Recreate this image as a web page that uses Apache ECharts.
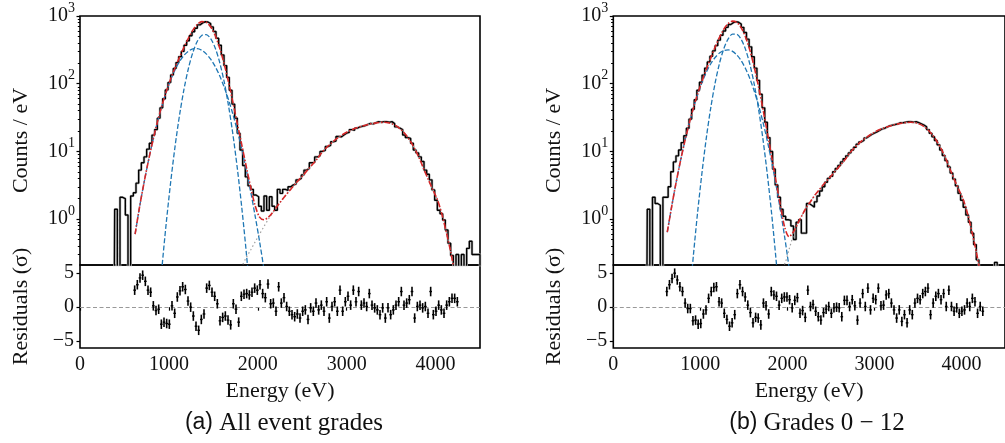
<!DOCTYPE html>
<html><head><meta charset="utf-8">
<script src="https://cdn.jsdelivr.net/npm/echarts/dist/echarts.min.js"></script>
<style>html,body{margin:0;padding:0;background:#fff}#c{width:1005px;height:443px}</style>
</head><body><div id="c"></div>
<script>
// ---------------- data ----------------
const BIN_WIDTH = 30;          // eV
const HIST_START = 405;        // centre of first histogram bin (eV)
const RESID_START = 615;       // centre of first residual bin (eV)
const RESID_ERR = 0.7;         // half length of residual error bars (sigma)

const HIST_A = [1.4,0,2.1,2.0,1.15,0,2.2,2.45,3.4,5.3,6.8,8.3,10.8,13.2,17.4,21,31,44,60,81,
  104,135,168,205,251,300,370,430,510,585,660,740,790,822,815,770,690,590,470,370,
  265,185,124,80,50,31,18.5,10.5,6.2,4.2,3.1,2.75,2.27,2.14,1.55,1.32,2.2,1.35,2.14,1.55,
  1.35,2.75,2.4,2.75,2.65,3.0,3.2,3.3,3.8,4.0,4.5,5.3,5.6,6.8,6.9,8.3,8.6,10,10.4,11.8,
  12.3,13.9,14.2,16.6,16.4,17.5,18.6,19.2,21,20.5,22,23,23.5,24,25,26,25.5,26.5,27.5,27,
  27.5,27.5,27,27.5,25.7,23,22,21,17.5,16,15.5,13.2,10.5,9.5,8.3,7.1,5.3,4.6,3.8,2.7,
  1.9,1.35,1.2,0.97,0.69,0.44,0.29,0,0.3,0,0.3,0,0.37,0.47,0.3,0.3,0.3];
const HIST_B = [1.4,0,2.1,1.7,1.6,0,2.1,2.1,3.0,5.0,7.0,8.6,10.5,13.5,17,22,30,42,58,80,
  105,134,170,210,255,305,365,440,520,600,680,750,800,825,810,760,680,570,455,350,
  250,170,112,70,44,27,16,10,5.5,3.2,2.1,1.4,1.1,0.98,0.96,0.79,0.5,0.9,0.98,0.62,
  0.62,1.7,1.6,1.5,1.8,2.2,2.6,3.0,3.5,4.0,4.3,5.0,5.6,6.2,7.0,7.8,8.6,9.5,10.5,11.5,
  12.8,13.8,14.5,15.8,16.8,17.8,18.6,19.5,20.5,21.5,22,23,24,24.5,25,25.5,26.5,26.5,27,27.5,
  27.5,27,27.5,26.5,25.5,24.5,23,21,18.5,16.5,14.5,12.5,10.5,8.7,7.3,5.9,4.8,3.9,3.1,2.4,
  1.9,1.5,1.15,0.9,0.62,0.42,0.25,0,0,0,0,0,0,0.23,0,0,0];

const RESID_A = [2.5,3.3,4.3,4.7,3.8,2.5,2.2,0.2,-0.5,-0.3,
  -2.5,-2.2,-2.4,-2.5,0.2,-0.9,1.5,2.4,3.0,2.6,
  0.9,0.0,-1.3,-2.8,-3.4,-1.8,-1.0,2.8,3.2,2.2,
  1.6,0.5,-2.0,-1.5,-1.3,-1.9,-2.6,0.5,-0.3,-2.2,
  1.6,1.9,2.0,1.8,2.2,2.8,2.5,3.3,2.0,1.4,
  3.4,0.5,0.6,-0.6,3.0,0.6,1.4,0.1,
  -0.6,-1.1,-1.4,-1.0,-1.6,-0.6,-0.4,-1.8,-0.1,-0.6,
  0.6,-0.4,0.3,-0.6,0.8,-1.6,0.1,0.8,-0.6,2.5,
  -0.6,0.8,1.6,0.3,2.5,0.8,2.3,0.3,0.6,0.1,
  2.0,0.3,-0.1,-0.4,-1.1,-0.1,-1.6,-0.1,-1.1,-0.4,
  0.3,0.8,2.3,0.3,0.6,1.1,2.3,-1.6,0.1,0.3,
  -0.1,0.1,-0.9,2.3,-1.1,-0.6,0.3,-0.4,-0.9,0.3,
  0.8,1.3,1.3,0.8];
const RESID_B = [2.3,3.3,4.2,5.0,4.0,3.0,2.3,0.6,-0.2,-0.2,
  -2.0,-1.9,-2.5,-2.4,-1.0,-0.4,1.3,2.3,2.9,3.0,
  0.8,0.6,-0.9,-1.8,-2.8,-2.3,-1.1,2.0,3.3,2.3,
  1.5,0.3,-0.8,-2.3,-1.5,-1.6,-2.6,0.6,0.2,-1.0,
  2.3,1.8,1.6,0.3,1.3,1.5,1.5,1.1,-0.1,1.0,
  1.4,-0.9,-0.5,-1.5,2.5,0.1,0.4,-0.6,-1.4,-1.9,
  -0.8,-0.3,0.1,-0.9,-0.1,0.0,-0.1,-1.4,1.0,1.0,
  0.1,1.1,0.2,-1.9,0.6,2.0,0.1,2.8,-0.4,1.3,
  1.1,2.8,0.2,0.3,1.8,2.0,0.6,-0.4,-1.6,-0.4,
  -2.1,-1.1,-2.3,-0.4,-1.1,0.6,1.3,1.1,2.0,2.3,
  2.8,-1.1,0.6,1.6,2.0,1.1,2.0,0.1,2.5,0.1,
  -0.6,-0.1,-0.9,-0.6,-0.4,0.6,0.1,1.3,0.8,-0.9,
  0.1,-0.6];

// model curves, sampled at these energies (eV)
const MODEL_E = [620,670,720,770,820,870,920,970,1020,1070,1120,1170,1220,1270,1320,1370,1420,1470,1520,1570,
  1620,1670,1720,1770,1820,1870,1920,1970,2020,2070,2120,2170,2220,2270,2320,2370,2420,2470,2520,2570,
  2620,2670,2720,2770,2820,2870,2920,2970,3020,3070,3120,3170,3220,3270,3320,3370,3420,3470,3520,3570,
  3620,3670,3720,3770,3820,3870,3920,3970,4020,4070,4120,4170,4220];
// continuum above 2320 eV (same in both fits)
const CONT_HIGH = [2.3,2.75,3.3,3.9,4.6,5.5,6.5,7.8,9.6,11.3,13.0,14.8,16.5,18.2,19.8,21.2,22.5,23.6,24.6,25.5,
  26.2,26.7,26.9,26.5,25.3,23.3,20.5,17.3,13.9,10.7,7.8,5.4,3.8,2.7,1.95,1.2,0.65,0.33,0.15];
const TOTAL_A_LOW = [0.60,1.51,3.43,7.3,14.5,26.9,46.8,76.3,117.5,173,247,346,472,618,752,827,808,693,519,341,
  200,107,53.4,25.8,12.5,6.0,2.96,1.59,1.07,0.98,1.07,1.27,1.56,1.9];
const BROAD_A = [0.60,1.51,3.43,7.3,14.5,26.9,46.6,75.4,114,161,213,263,303,327,330,311,276,230,180,132,
  90.5,58.5,35.5,20.2,10.8,5.4,2.55,1.12,0.47,0.18,0.066];
const NARROW_A = [null,null,null,null,null,0.03,0.18,0.87,3.5,12,34.4,83,169,291,423,516,532,463,340,210,
  110,48,17.9,5.6,1.48,0.33,0.06];
const CONT_A_LOW = [null,null,null,null,null,null,null,null,null,null,null,null,null,null,null,null,null,null,null,null,
  null,null,null,0.15,0.2,0.27,0.35,0.46,0.6,0.78,1.0,1.25,1.55,1.9];
const TOTAL_B_LOW = [0.64,1.52,3.39,7.07,13.8,25.35,43.7,71.2,110,165,241,347,484,639,775,840,801,668,485,309,
  174,88.5,41.8,18.8,8.25,3.57,1.58,0.75,0.55,0.65,0.87,1.15,1.5,1.85];
const BROAD_B = [0.64,1.52,3.39,7.07,13.8,25.3,43.4,69.9,105,149,197,244,284,309,316,300,265,218,166,118,
  77.4,47.3,26.9,14.2,6.95,3.16,1.34,0.53,0.19,0.065];
const NARROW_B = [null,null,null,null,null,0.054,0.29,1.31,5.0,16.3,44.4,102.6,200,330,459,540,536,450,319,191,
  96.6,41.2,14.9,4.53,1.17,0.25,0.047];
const CONT_B_LOW = [null,null,null,null,null,null,null,null,null,null,null,null,null,null,null,null,null,null,null,null,
  null,null,null,null,null,0.16,0.19,0.22,0.36,0.58,0.85,1.15,1.5,1.85];

const X_TICKS = [0,1000,2000,3000,4000];
const Y_TICKS = [1,10,100,1000];
const Y_MINOR = [0.3,0.4,0.5,0.6,0.7,0.8,0.9,2,3,4,5,6,7,8,9,20,30,40,50,60,70,80,90,200,300,400,500,600,700,800,900];
const R_TICKS = [-5,0,5];
const CAPTIONS = [['(a)','All event grades'],['(b)','Grades 0 \u2212 12']];

// ---------------- drawing ----------------
const SERIF = "'Liberation Serif','DejaVu Serif',serif";
const SANS = "'Liberation Sans','DejaVu Sans',sans-serif";
const TXT = '#111';
const FLOOR = 1e-4; // display floor for empty bins on log axis
const Y_MIN = 0.21, Y_MAX = 1000, R_MIN = -6, R_MAX = 6.2, X_MIN = 0, X_MAX = 4500;

function histPoints(vals){
  const pts=[[HIST_START-BIN_WIDTH,FLOOR]];
  vals.forEach((v,i)=>pts.push([HIST_START+i*BIN_WIDTH, v>0?v:FLOOR]));
  pts.push([HIST_START+vals.length*BIN_WIDTH,FLOOR]);
  return pts;
}
function modelPoints(vals){
  const pts=[];
  vals.forEach((v,i)=>{ if(v!==null && v!==undefined) pts.push([MODEL_E[i],v]); });
  return pts;
}
function residPoints(vals){ return vals.map((r,i)=>[RESID_START+i*BIN_WIDTH, r]); }

const PANELS = [
  {left:80, hist:HIST_A, resid:RESID_A, total:TOTAL_A_LOW.concat(CONT_HIGH), broad:BROAD_A, narrow:NARROW_A, cont:CONT_A_LOW.concat(CONT_HIGH), cap:CAPTIONS[0], capX:284},
  {left:613.3, hist:HIST_B, resid:RESID_B, total:TOTAL_B_LOW.concat(CONT_HIGH), broad:BROAD_B, narrow:NARROW_B, cont:CONT_B_LOW.concat(CONT_HIGH), cap:CAPTIONS[1], capX:817}
];

const grid=[], xAxis=[], yAxis=[], series=[], graphic=[];
const tickStyle = {show:true, inside:false, length:3.5, lineStyle:{color:'#000', width:1.2}};
const labelBase = {color:TXT, fontFamily:SERIF, fontSize:20};
const nameStyle = {color:TXT, fontFamily:SERIF, fontSize:22};

PANELS.forEach((p,k)=>{
  const gTop = grid.length;
  grid.push({left:p.left, top:16, width:400, height:249, show:true, borderColor:'#000', borderWidth:1.6, containLabel:false});
  grid.push({left:p.left, top:265, width:400, height:83, show:true, borderColor:'#000', borderWidth:1.6, containLabel:false});
  const xTop = xAxis.length;
  xAxis.push({type:'value', gridIndex:gTop, min:X_MIN, max:X_MAX, axisLine:{show:false}, axisTick:{show:false}, axisLabel:{show:false}, splitLine:{show:false}});
  xAxis.push({type:'value', gridIndex:gTop+1, min:X_MIN, max:X_MAX, axisLine:{show:false},
    axisTick:Object.assign({customValues:X_TICKS}, tickStyle),
    axisLabel:Object.assign({customValues:X_TICKS, margin:7, formatter:v=>String(v)}, labelBase),
    splitLine:{show:false},
    name:'Energy (eV)', nameLocation:'middle', nameGap:32, nameTextStyle:nameStyle});
  const yTop = yAxis.length;
  yAxis.push({type:'log', logBase:10, gridIndex:gTop, min:Y_MIN, max:Y_MAX, position:'left', axisLine:{show:false},
    axisTick:Object.assign({customValues:Y_TICKS}, tickStyle),
    axisLabel:Object.assign({customValues:Y_TICKS, margin:5,
      formatter:v=>'{b|10}{s|'+Math.round(Math.log10(v))+'}',
      rich:{b:{fontFamily:SERIF, fontSize:20, color:TXT, lineHeight:30, verticalAlign:'middle'},
            s:{fontFamily:SERIF, fontSize:14, color:TXT, lineHeight:19, verticalAlign:'top'}}}, labelBase),
    splitLine:{show:false},
    name:'Counts / eV', nameLocation:'middle', nameGap:48, nameTextStyle:nameStyle});
  yAxis.push({type:'log', logBase:10, gridIndex:gTop, min:Y_MIN, max:Y_MAX, position:'left', offset:0, axisLine:{show:false},
    axisTick:{show:true, inside:false, length:2.2, customValues:Y_MINOR, lineStyle:{color:'#000', width:1}},
    axisLabel:{show:false}, splitLine:{show:false}});
  yAxis.push({type:'value', gridIndex:gTop+1, min:R_MIN, max:R_MAX, position:'left', axisLine:{show:false},
    axisTick:Object.assign({customValues:R_TICKS}, tickStyle),
    axisLabel:Object.assign({customValues:R_TICKS, margin:6, formatter:v=>v<0?'\u2212'+Math.abs(v):String(v)}, labelBase),
    splitLine:{show:false},
    name:'Residuals (\u03c3)', nameLocation:'middle', nameGap:48, nameTextStyle:nameStyle});

  const hp = histPoints(p.hist);
  series.push({type:'line', xAxisIndex:xTop, yAxisIndex:yTop, data:hp, step:'middle', showSymbol:false, silent:true, z:1,
    lineStyle:{color:'#c4c4c4', width:2.6}});
  series.push({type:'line', xAxisIndex:xTop, yAxisIndex:yTop, data:hp, step:'middle', showSymbol:false, silent:true, z:2,
    lineStyle:{color:'#000', width:1.4}});
  series.push({type:'line', xAxisIndex:xTop, yAxisIndex:yTop, data:modelPoints(p.cont), showSymbol:false, smooth:0.3, silent:true, z:3,
    lineStyle:{color:'#a0a0a0', width:1.2, type:[1.5,2.5]}});
  series.push({type:'line', xAxisIndex:xTop, yAxisIndex:yTop, data:modelPoints(p.broad), showSymbol:false, smooth:0.3, silent:true, z:4,
    lineStyle:{color:'#1f77b4', width:1.3, type:[5,2.2]}});
  series.push({type:'line', xAxisIndex:xTop, yAxisIndex:yTop, data:modelPoints(p.narrow), showSymbol:false, smooth:0.3, silent:true, z:4,
    lineStyle:{color:'#1f77b4', width:1.3, type:[5,2.2]}});
  series.push({type:'line', xAxisIndex:xTop, yAxisIndex:yTop, data:modelPoints(p.total), showSymbol:false, smooth:0.3, silent:true, z:5,
    lineStyle:{color:'#d62728', width:1.6, type:[6,1.8,1.5,1.8]}});

  series.push({type:'custom', xAxisIndex:xTop+1, yAxisIndex:yTop+2, data:residPoints(p.resid), silent:true, z:3,
    encode:{x:0,y:1},
    renderItem:(params, api)=>{
      const e=api.value(0), r=api.value(1);
      const a=api.coord([e, r+RESID_ERR]), b=api.coord([e, r-RESID_ERR]);
      const l=api.coord([e-BIN_WIDTH/2, r]), rr=api.coord([e+BIN_WIDTH/2, r]);
      return {type:'group', children:[
        {type:'line', shape:{x1:a[0],y1:a[1],x2:b[0],y2:b[1]}, style:{stroke:'#000', lineWidth:1.6}},
        {type:'line', shape:{x1:l[0],y1:l[1],x2:rr[0],y2:rr[1]}, style:{stroke:'#000', lineWidth:1.4}}
      ]};
    },
    markLine:{silent:true, symbol:'none', label:{show:false}, z:1,
      lineStyle:{color:'#999', width:1.2, type:[4,2.5]}, data:[{yAxis:0}]}});

  graphic.push({type:'text', x:p.capX, y:423, style:{
    text:'{a|'+p.cap[0]+'}{b| '+p.cap[1]+'}', align:'center', verticalAlign:'middle',
    rich:{a:{fontFamily:SANS, fontSize:23, fill:TXT}, b:{fontFamily:SERIF, fontSize:25, fill:TXT}}}});
});

const chart = echarts.init(document.getElementById('c'), null, {renderer:'canvas'});
chart.setOption({animation:false, backgroundColor:'#fff', grid, xAxis, yAxis, series, graphic});
</script>
</body></html>
